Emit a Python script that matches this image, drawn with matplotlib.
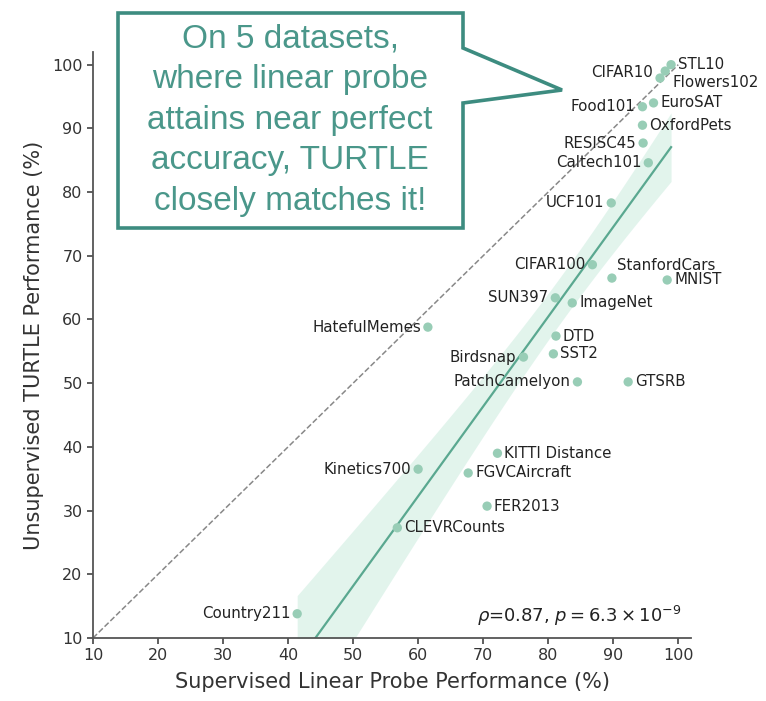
import numpy as np
import matplotlib
matplotlib.use("Agg")
import matplotlib.pyplot as plt
from matplotlib.patches import Polygon

# data (supervised linear probe %, unsupervised TURTLE %)
names = ["STL10", "Flowers102", "CIFAR10", "EuroSAT", "Food101", "OxfordPets",
         "RESISC45", "Caltech101", "UCF101", "CIFAR100", "StanfordCars", "MNIST",
         "SUN397", "ImageNet", "HatefulMemes", "DTD", "SST2", "Birdsnap",
         "PatchCamelyon", "GTSRB", "KITTI Distance", "Kinetics700", "FGVCAircraft",
         "FER2013", "CLEVRCounts", "Country211"]
probe = [98.9, 98.0, 97.2, 96.2, 94.5, 94.5, 94.6, 95.4, 89.7, 86.8, 89.8, 98.3,
         81.1, 83.7, 61.5, 81.2, 80.8, 76.2, 84.5, 92.3, 72.2, 60.0, 67.7,
         70.6, 56.8, 41.4]
turtle = [100.0, 99.0, 97.9, 94.0, 93.4, 90.5, 87.7, 84.6, 78.3, 68.6, 66.5, 66.2,
          63.4, 62.6, 58.8, 57.4, 54.6, 54.1, 50.2, 50.2, 39.0, 36.5, 35.9,
          30.7, 27.3, 13.8]
ticks = [10, 20, 30, 40, 50, 60, 70, 80, 90, 100]

# label placement (offset in points)
left = {"CIFAR10", "Food101", "RESISC45", "Caltech101", "UCF101", "CIFAR100",
        "SUN397", "HatefulMemes", "Birdsnap", "PatchCamelyon", "Kinetics700",
        "Country211"}
special = {"Flowers102": (5, -8), "StanfordCars": (4, 9), "CIFAR10": (-5, 4)}

dot_col = "#98cdb6"
line_col = "#5aa890"
box_col = "#3d8c80"
txt_col = "#4a978a"
grey = "#333333"

fig = plt.figure(figsize=(7.66, 7.01), dpi=100)
ax = fig.add_axes([0.1214, 0.0899, 0.781, 0.836])

x = np.array(probe)
y = np.array(turtle)

# regression line + confidence band
b, a = np.polyfit(x, y, 1)
xs = np.linspace(x.min(), x.max(), 100)
ys = a + b * xs
n = len(x)
resid = y - (a + b * x)
s = np.sqrt(np.sum(resid ** 2) / (n - 2))
se = s * np.sqrt(1 / n + (xs - x.mean()) ** 2 / np.sum((x - x.mean()) ** 2))
ax.fill_between(xs, ys - 1.5 * se, ys + 1.5 * se, color="#c6eadb", alpha=0.5,
                lw=0, zorder=1)
ax.plot(xs, ys, color=line_col, lw=1.6, zorder=2)

ax.plot([10, 100], [10, 100], ls="--", color="#888888", lw=1.1, zorder=1)
ax.scatter(x, y, s=45, color=dot_col, edgecolors="none", zorder=3)

for nm, px, py in zip(names, probe, turtle):
    if nm in special:
        dx, dy = special[nm]
    elif nm in left:
        dx, dy = -5, 0
    else:
        dx, dy = 5, 0
    ha = "right" if dx < 0 else "left"
    ax.annotate(nm, (px, py), xytext=(dx, dy), textcoords="offset points",
                ha=ha, va="center", fontsize=10.8, color="#222222", zorder=4)

ax.text(100.5, 13.5, r"$\rho$=0.87, $p=6.3\times10^{-9}$", ha="right",
        va="center", fontsize=13, color="#222222")

ax.set_xlim(10, 102)
ax.set_ylim(10, 102)
ax.set_xticks(ticks)
ax.set_yticks(ticks)
ax.tick_params(labelsize=11.5, colors=grey, length=4, width=1.1)
ax.spines["top"].set_visible(False)
ax.spines["right"].set_visible(False)
for sp in ["left", "bottom"]:
    ax.spines[sp].set_color("#555555")
    ax.spines[sp].set_linewidth(1.3)
ax.set_xlabel("Supervised Linear Probe Performance (%)", fontsize=15, color=grey,
              labelpad=6)
ax.set_ylabel("Unsupervised TURTLE Performance (%)", fontsize=15, color=grey,
              labelpad=6)

# speech-bubble callout in figure pixels
W, H = 766.0, 701.0
pts = [(118, 13), (463, 13), (463, 48), (562, 90), (463, 103), (463, 228), (118, 228)]
poly = Polygon([(px / W, 1 - py / H) for px, py in pts], closed=True,
               transform=fig.transFigure, facecolor="white", edgecolor=box_col,
               lw=2.6, zorder=10)
fig.patches.append(poly)
fig.text(290 / W, 1 - 120 / H,
         "On 5 datasets,\nwhere linear probe\nattains near perfect\naccuracy, TURTLE\nclosely matches it!",
         ha="center", va="center", fontsize=24, color=txt_col,
         family="Liberation Sans", linespacing=1.4, zorder=11)

fig.savefig("out.png", dpi=100)
